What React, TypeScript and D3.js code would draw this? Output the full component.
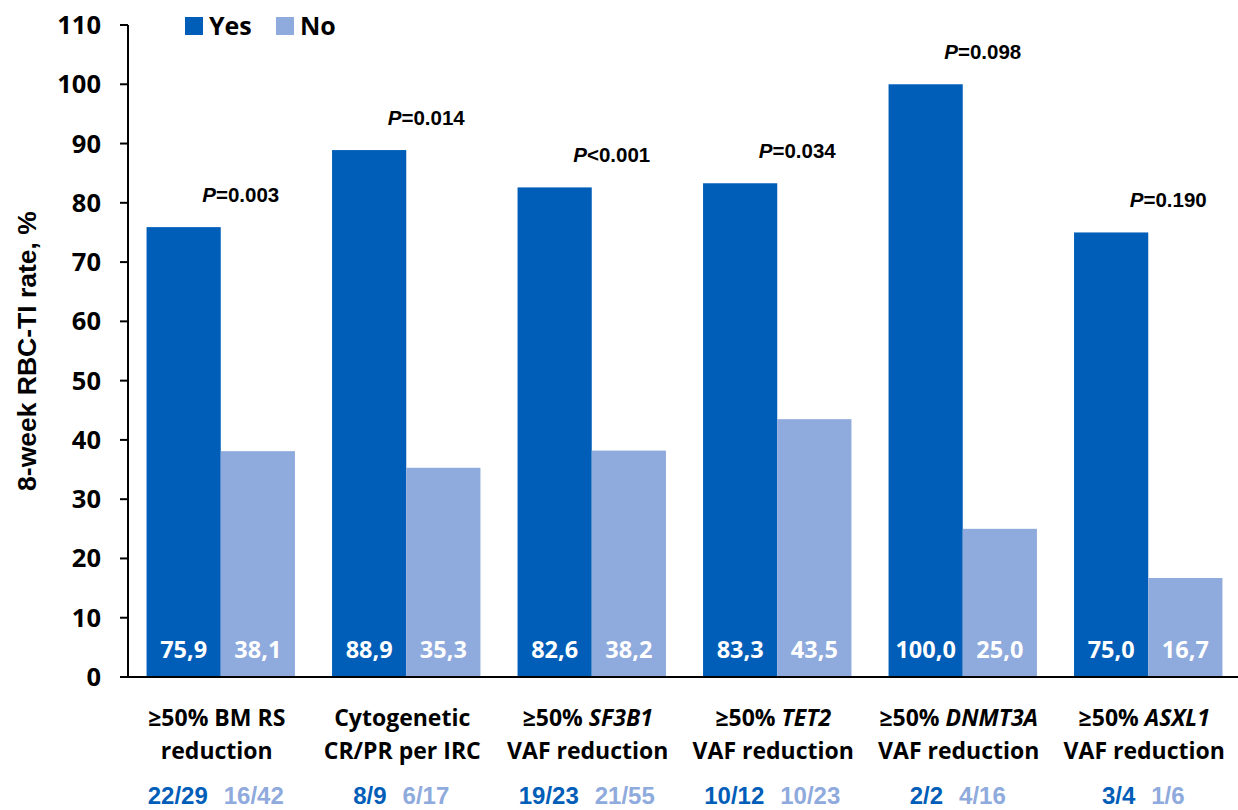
import React from "react";
import * as d3 from "d3";

const categoriesLine1 = ["≥50% BM RS", "Cytogenetic", "≥50% ", "≥50% ", "≥50% ", "≥50% "];
const categoriesGene = ["", "", "SF3B1", "TET2", "DNMT3A", "ASXL1"];
const categoriesLine2 = ["reduction", "CR/PR per IRC", "VAF reduction", "VAF reduction", "VAF reduction", "VAF reduction"];
const yesValues = [75.9, 88.9, 82.6, 83.3, 100.0, 75.0];
const noValues = [38.1, 35.3, 38.2, 43.5, 25.0, 16.7];
const yesFractions = ["22/29", "8/9", "19/23", "10/12", "2/2", "3/4"];
const noFractions = ["16/42", "6/17", "21/55", "10/23", "4/16", "1/6"];
const pSymbols = ["=", "=", "<", "=", "=", "="];
const pValues = ["0.003", "0.014", "0.001", "0.034", "0.098", "0.190"];
const yTicks = [0, 10, 20, 30, 40, 50, 60, 70, 80, 90, 100, 110];
const seriesNames = ["Yes", "No"];

const YES = "#005EB8";
const NO = "#8FAADC";
const W = 1238, H = 810;
const LBL = "'Open Sans', Lato, sans-serif";
const ARIAL = "'Liberation Sans', Arial, sans-serif";

export default function App() {
  const idx = d3.range(yesValues.length);
  const x = d3.scaleBand<number>().domain(idx).range([128, 1241]).paddingInner(0.2).paddingOuter(0.1);
  const inner = d3.scaleBand<string>().domain(seriesNames).range([0, x.bandwidth()]);
  const y = d3.scaleLinear().domain([0, 110]).range([677, 25]);
  const fmt = (v: number) => v.toFixed(1).replace(".", ",");

  return (
    <svg width={W} height={H} style={{ position: "absolute", left: 0, top: 0, background: "#fff" }}>
      {idx.map((i) => {
        const gx = (x(i) as number) + x.bandwidth() / 2;
        return (
          <g key={"b" + i}>
            {[yesValues[i], noValues[i]].map((v, s) => {
              const bx = (x(i) as number) + (inner(seriesNames[s]) as number);
              return (
                <g key={s}>
                  <rect x={bx} y={y(v)} width={inner.bandwidth()} height={y(0) - y(v)} fill={s === 0 ? YES : NO} />
                  <text x={bx + inner.bandwidth() / 2} y={658} textAnchor="middle" fill="#fff"
                    fontFamily={LBL} fontWeight={700} fontSize={23.5}>{fmt(v)}</text>
                </g>
              );
            })}
            <text x={gx + 20} y={y(Math.max(yesValues[i], noValues[i])) - 25}
              textAnchor="middle" fontFamily={ARIAL} fontWeight={700} fontSize={20.5} fill="#000">
              <tspan fontStyle="italic">P</tspan>{pSymbols[i] + pValues[i]}
            </text>
            <text x={gx - 4} y={726} textAnchor="middle"
              fontFamily={LBL} fontWeight={700} fontSize={23} fill="#000">
              {categoriesLine1[i]}<tspan fontStyle="italic">{categoriesGene[i]}</tspan>
            </text>
            <text x={gx - 4} y={759} textAnchor="middle"
              fontFamily={LBL} fontWeight={700} fontSize={23} fill="#000">{categoriesLine2[i]}</text>
            <text x={gx - 5} y={804} textAnchor="middle"
              fontFamily={ARIAL} fontWeight={700} fontSize={24}>
              <tspan fill={YES}>{yesFractions[i]}</tspan>
              <tspan fill={NO} dx={16}>{noFractions[i]}</tspan>
            </text>
          </g>
        );
      })}
      <line x1={128} x2={128} y1={y(110)} y2={y(0) + 1} stroke="#000" strokeWidth={2} />
      {yTicks.map((t) => (
        <g key={t}>
          <line x1={120} x2={128} y1={y(t)} y2={y(t)} stroke="#000" strokeWidth={2} />
          <text x={101} y={y(t) + 9} textAnchor="end" fontFamily={LBL} fontWeight={700} fontSize={25.5} fill="#000">{t}</text>
        </g>
      ))}
      <line x1={127} x2={1238} y1={y(0)} y2={y(0)} stroke="#000" strokeWidth={2} />
      <text transform={`translate(36,351) rotate(-90)`} textAnchor="middle"
        fontFamily={ARIAL} fontWeight={700} fontSize={26.5} fill="#000">8-week RBC-TI rate, %</text>
      {seriesNames.map((n, s) => (
        <g key={n} transform={`translate(${s === 0 ? 185 : 276},17)`}>
          <rect width={18} height={18} fill={s === 0 ? YES : NO} />
          <text x={24} y={18} fontFamily={LBL} fontWeight={700} fontSize={25} fill="#000">{n}</text>
        </g>
      ))}
    </svg>
  );
}
